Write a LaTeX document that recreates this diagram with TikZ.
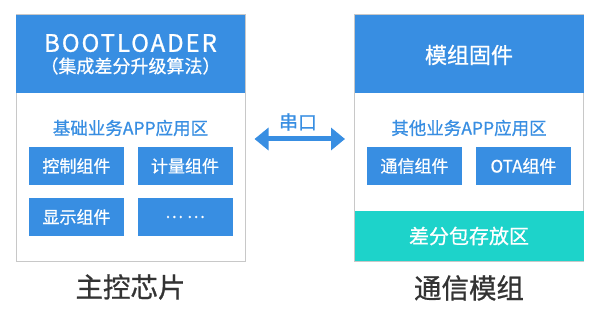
\documentclass[tikz,border=0pt]{standalone}
\usepackage{fontspec}
\setmainfont{Noto Sans CJK SC}[FakeBold=0.8]
\newfontfamily\bootfont{Noto Sans CJK SC}[FakeBold=0.8, LetterSpace=8]
\usetikzlibrary{arrows.meta,positioning}
\definecolor{hdblue}{HTML}{388EE2}
\definecolor{store}{HTML}{1DD3CA}
\definecolor{frame}{HTML}{C8C8C8}
\definecolor{capgray}{HTML}{333333}
\tikzset{
  chip/.style={draw=frame, line width=1pt, fill=white, minimum width=229pt,
    minimum height=246pt, inner sep=0pt},
  header/.style={fill=hdblue, minimum width=229pt, minimum height=78pt, inner sep=0pt},
  comp/.style={fill=hdblue, text=white, minimum width=95pt, minimum height=38pt,
    inner sep=0pt, font=\fontsize{17}{20}\selectfont},
  area/.style={text=hdblue, font=\fontsize{17.5}{20}\selectfont},
  hdtext/.style={text=white, inner sep=0pt},
  caption/.style={text=capgray, font=\fontsize{27.5}{32}\selectfont},
  link/.style={{Triangle[length=14pt,width=22pt]}-{Triangle[length=14pt,width=22pt]},
    line width=5pt, draw=hdblue},
}

\begin{document}
\begin{tikzpicture}[x=1pt, y=-1pt]
\useasboundingbox (0,0) rectangle (600,310);

% main chip
\node[chip] (lchip) at (130.5,138) {};
\node[header] (lhead) at (130.5,54) {};
\node[hdtext, font=\bootfont\fontsize{24}{28}\selectfont] (boot) at (130.5,43) {BOOTLOADER};
\node[hdtext, font=\fontsize{18}{21}\selectfont] (algo) at (130.5,66) {（集成差分升级算法）};
\node[area] (lapp) at (130.5,128) {基础业务APP应用区};
\node[comp] (ctrl) at (76.5,166) {控制组件};
\node[comp] (meter) at (185,166) {计量组件};
\node[comp] (disp) at (76.5,217) {显示组件};
\node[comp] (more) at (185,217) {… …};
\node[caption] (lcap) at (130.5,287) {主控芯片};

% module
\node[chip] (rchip) at (469,138) {};
\node[header] (rhead) at (469,54) {};
\node[hdtext, font=\fontsize{22}{26}\selectfont] (fw) at (469,55) {模组固件};
\node[area] (rapp) at (469,128) {其他业务APP应用区};
\node[comp] (comm) at (414.5,166) {通信组件};
\node[comp] (ota) at (523.5,166) {OTA组件};
\node[fill=store, text=white, minimum width=229pt, minimum height=50pt, inner sep=0pt,
  font=\fontsize{20}{24}\selectfont] (pkg) at (469,236) {差分包存放区};
\node[caption] (rcap) at (469,288) {通信模组};

% serial link
\draw[link] ([xshift=9pt,yshift=-1pt]lchip.east) -- ([xshift=-9pt,yshift=-1pt]rchip.west);
\node[text=hdblue, font=\fontsize{19}{22}\selectfont] (uart) at (298,122) {串口};

\end{tikzpicture}
\end{document}
